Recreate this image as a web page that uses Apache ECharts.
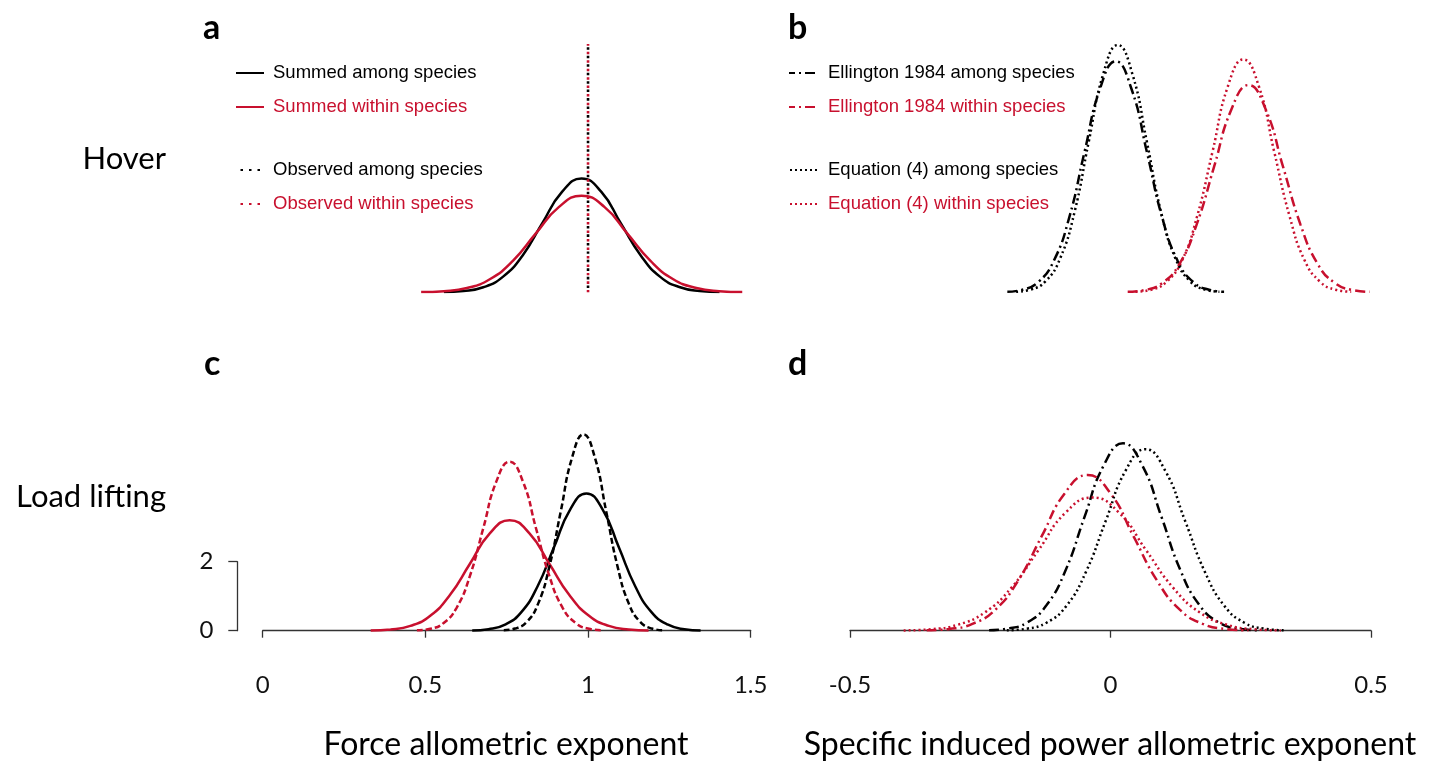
<!DOCTYPE html>
<html>
<head>
<meta charset="utf-8">
<title>Allometric exponent distributions</title>
<script src="https://cdn.jsdelivr.net/npm/echarts@6/dist/echarts.min.js"></script>
<style>
  html, body { margin: 0; padding: 0; background: #fff; }
  #chart { width: 1437px; height: 762px; }
</style>
</head>
<body>
<div id="chart"></div>
<script>
// ---- Panel a: hover, force allometric exponent ([exponent, density]) ----
const hoverSummedAmong = [[0.557,0.007],[0.617,0.037],[0.678,0.145],[0.738,0.447],[0.799,1.07],[0.859,2.00],[0.920,2.91],[0.980,3.30],[1.041,2.91],[1.101,2.00],[1.162,1.07],[1.222,0.447],[1.283,0.145],[1.343,0.037],[1.404,0.007]];
const hoverSummedWithin = [[0.487,0.006],[0.557,0.031],[0.628,0.123],[0.698,0.379],[0.769,0.909],[0.839,1.70],[0.910,2.47],[0.980,2.80],[1.051,2.47],[1.121,1.70],[1.192,0.909],[1.262,0.379],[1.333,0.123],[1.403,0.031],[1.474,0.006]];
const hoverObservedAmong = [[1.0,0],[1.0,7.2]];
const hoverObservedWithin = [[1.0,0],[1.0,7.2]];

// ---- Panel b: hover, specific induced power exponent ----
const hoverEllingtonAmong = [[-0.198,0.015],[-0.169,0.074],[-0.139,0.294],[-0.109,0.907],[-0.079,2.18],[-0.050,4.06],[-0.020,5.91],[0.010,6.70],[0.040,5.91],[0.070,4.06],[0.099,2.18],[0.129,0.907],[0.159,0.294],[0.189,0.074],[0.218,0.015]];
const hoverEllingtonWithin = [[0.033,0.013],[0.066,0.067],[0.099,0.264],[0.132,0.813],[0.165,1.95],[0.199,3.65],[0.232,5.30],[0.265,6.01],[0.298,5.30],[0.331,3.65],[0.365,1.95],[0.398,0.813],[0.431,0.264],[0.464,0.067],[0.497,0.013]];
const hoverEquationAmong = [[-0.181,0.016],[-0.153,0.080],[-0.125,0.315],[-0.097,0.970],[-0.069,2.33],[-0.042,4.35],[-0.014,6.33],[0.014,7.17],[0.042,6.33],[0.070,4.35],[0.097,2.33],[0.125,0.970],[0.153,0.315],[0.181,0.080],[0.209,0.016]];
const hoverEquationWithin = [[0.048,0.015],[0.078,0.075],[0.107,0.296],[0.137,0.913],[0.166,2.19],[0.196,4.09],[0.225,5.96],[0.255,6.75],[0.285,5.96],[0.314,4.09],[0.344,2.19],[0.373,0.913],[0.403,0.296],[0.432,0.075],[0.462,0.015]];

// ---- Panel c: load lifting, force allometric exponent ----
const liftSummedAmong = [[0.644,0.009],[0.694,0.044],[0.745,0.175],[0.795,0.538],[0.845,1.29],[0.895,2.41],[0.945,3.51],[0.995,3.98],[1.045,3.51],[1.095,2.41],[1.145,1.29],[1.195,0.538],[1.246,0.175],[1.296,0.044],[1.346,0.009]];
const liftSummedWithin = [[0.332,0.007],[0.393,0.036],[0.454,0.140],[0.515,0.433],[0.576,1.04],[0.637,1.94],[0.698,2.82],[0.759,3.20],[0.820,2.82],[0.881,1.94],[0.942,1.04],[1.003,0.433],[1.064,0.140],[1.125,0.036],[1.186,0.007]];
const liftObservedAmong = [[0.741,0.012],[0.776,0.063],[0.811,0.250],[0.846,0.770],[0.881,1.85],[0.916,3.45],[0.951,5.02],[0.986,5.69],[1.021,5.02],[1.056,3.45],[1.091,1.85],[1.126,0.770],[1.161,0.250],[1.196,0.063],[1.231,0.012]];
const liftObservedWithin = [[0.474,0.011],[0.515,0.054],[0.555,0.215],[0.596,0.663],[0.637,1.59],[0.678,2.97],[0.718,4.32],[0.759,4.90],[0.800,4.32],[0.840,2.97],[0.881,1.59],[0.922,0.663],[0.963,0.215],[1.003,0.054],[1.044,0.011]];

// ---- Panel d: load lifting, specific induced power exponent ----
const liftEllingtonAmong = [[-0.233,0.012],[-0.197,0.060],[-0.160,0.238],[-0.123,0.735],[-0.086,1.76],[-0.050,3.29],[-0.013,4.79],[0.024,5.43],[0.061,4.79],[0.098,3.29],[0.134,1.76],[0.171,0.735],[0.208,0.238],[0.245,0.060],[0.281,0.012]];
const liftEllingtonWithin = [[-0.353,0.010],[-0.309,0.050],[-0.265,0.198],[-0.221,0.610],[-0.177,1.46],[-0.132,2.74],[-0.088,3.98],[-0.044,4.51],[0.000,3.98],[0.044,2.74],[0.089,1.46],[0.133,0.610],[0.177,0.198],[0.221,0.050],[0.265,0.010]];
const liftEquationAmong = [[-0.199,0.012],[-0.161,0.058],[-0.123,0.231],[-0.085,0.712],[-0.047,1.71],[-0.009,3.19],[0.029,4.64],[0.067,5.26],[0.105,4.64],[0.143,3.19],[0.181,1.71],[0.219,0.712],[0.257,0.231],[0.295,0.058],[0.333,0.012]];
const liftEquationWithin = [[-0.397,0.008],[-0.345,0.043],[-0.294,0.169],[-0.242,0.522],[-0.190,1.25],[-0.138,2.34],[-0.087,3.41],[-0.035,3.86],[0.017,3.41],[0.068,2.34],[0.120,1.25],[0.172,0.522],[0.224,0.169],[0.275,0.043],[0.327,0.008]];

// ---- Axis settings and labels ----
const forceTicks = [0, 0.5, 1, 1.5];
const powerTicks = [-0.5, 0, 0.5];
const densityScaleTicks = [0, 2];
const densityMax = 7.2;
const rowLabels = ['Hover', 'Load lifting'];
const panelLetters = ['a', 'b', 'c', 'd'];
const axisTitles = ['Force allometric exponent', 'Specific induced power allometric exponent'];

const BLACK = '#000000';
const RED = '#c8102e';
const AXIS = '#333333';
const UI_FONT = 'Lato, "Open Sans", sans-serif';
const LEGEND_FONT = '"Liberation Sans", Arial, sans-serif';

const DOT_A = [2.5, 6];
const DOT = [2, 3];
const DASH = [6, 3];
const DASHDOT = [10, 4, 2, 4];

function curve(name, data, grid, color, type, width, extra) {
  return Object.assign({
    name: name,
    type: 'line',
    xAxisIndex: grid,
    yAxisIndex: grid,
    data: data,
    symbol: 'none',
    smooth: 0.5,
    silent: true,
    animation: false,
    lineStyle: { color: color, width: width, type: type, cap: 'butt' },
    itemStyle: { color: color }
  }, extra || {});
}

function bottomXAxis(grid, min, max, ticks) {
  return {
    type: 'value', gridIndex: grid, min: min, max: max, interval: 0.5,
    offset: 11,
    splitLine: { show: false },
    axisLine: { show: true, lineStyle: { color: AXIS, width: 1.3 } },
    axisTick: { show: true, length: 7, lineStyle: { color: AXIS, width: 1.3 } },
    axisLabel: {
      margin: 32, fontSize: 24, color: '#111', fontFamily: UI_FONT,
      formatter: function (v) { return ticks.indexOf(v) >= 0 ? String(v) : ''; }
    }
  };
}

function hiddenXAxis(grid, min, max) {
  return { type: 'value', gridIndex: grid, min: min, max: max, show: false, splitLine: { show: false } };
}

function hiddenYAxis(grid) {
  return { type: 'value', gridIndex: grid, min: 0, max: densityMax, show: false, splitLine: { show: false } };
}

function legendBlock(names, colors, left, top, width) {
  return {
    orient: 'vertical', left: left, top: top,
    itemWidth: width, itemHeight: 14, itemGap: 14,
    selectedMode: false, padding: 0,
    itemStyle: { opacity: 0 },
    textStyle: { fontSize: 18.5, lineHeight: 20, fontFamily: LEGEND_FONT, padding: [0, 0, 0, 4] },
    data: names.map(function (n, i) { return { name: n, textStyle: { color: colors[i] } }; })
  };
}

const chart = echarts.init(document.getElementById('chart'), null, { renderer: 'canvas' });

const option = {
  backgroundColor: '#ffffff',
  animation: false,
  grid: [
    { left: 262.7, width: 488, top: 44, height: 248.3 },
    { left: 850, width: 521, top: 44, height: 248.3 },
    { left: 262.7, width: 488, top: 382.3, height: 248.4 },
    { left: 850, width: 521, top: 382.3, height: 248.4 },
    { left: 237.3, width: 1, top: 561.7, height: 69 }
  ],
  xAxis: [
    hiddenXAxis(0, 0, 1.5),
    hiddenXAxis(1, -0.5, 0.5),
    bottomXAxis(2, 0, 1.5, forceTicks),
    bottomXAxis(3, -0.5, 0.5, powerTicks),
    hiddenXAxis(4, 0, 1)
  ],
  yAxis: [
    hiddenYAxis(0),
    hiddenYAxis(1),
    hiddenYAxis(2),
    hiddenYAxis(3),
    {
      type: 'value', gridIndex: 4, min: 0, max: 2, interval: 2,
      splitLine: { show: false },
      axisLine: { show: true, lineStyle: { color: AXIS, width: 1.3 } },
      axisTick: { show: true, length: 9, lineStyle: { color: AXIS, width: 1.3 } },
      axisLabel: {
        margin: 24, fontSize: 24, color: '#111', fontFamily: UI_FONT,
        formatter: function (v) { return densityScaleTicks.indexOf(v) >= 0 ? String(v) : ''; }
      }
    }
  ],
  legend: [
    legendBlock(['Summed among species', 'Summed within species'], [BLACK, RED], 235, 63, 28),
    legendBlock(['Observed among species', 'Observed within species'], [BLACK, RED], 235, 160, 28),
    legendBlock(['Ellington 1984 among species', 'Ellington 1984 within species'], [BLACK, RED], 788, 63, 30),
    legendBlock(['Equation (4) among species', 'Equation (4) within species'], [BLACK, RED], 788, 160, 30)
  ],
  series: [
    // a
    curve('Summed among species', hoverSummedAmong, 0, BLACK, 'solid', 2.5),
    curve('Summed within species', hoverSummedWithin, 0, RED, 'solid', 2.5),
    curve('Observed within species', hoverObservedWithin, 0, RED, DOT_A, 2.6, { z: 3 }),
    curve('Observed among species', hoverObservedAmong, 0, BLACK, DOT_A, 2.6, { z: 4 }),
    // b
    curve('Ellington 1984 among species', hoverEllingtonAmong, 1, BLACK, DASHDOT, 2.5),
    curve('Ellington 1984 within species', hoverEllingtonWithin, 1, RED, DASHDOT, 2.5),
    curve('Equation (4) among species', hoverEquationAmong, 1, BLACK, DOT, 2.5),
    curve('Equation (4) within species', hoverEquationWithin, 1, RED, DOT, 2.5),
    // c
    curve('Summed among species', liftSummedAmong, 2, BLACK, 'solid', 2.5),
    curve('Summed within species', liftSummedWithin, 2, RED, 'solid', 2.5),
    curve('Observed among species', liftObservedAmong, 2, BLACK, DASH, 2.5),
    curve('Observed within species', liftObservedWithin, 2, RED, DASH, 2.5),
    // d
    curve('Ellington 1984 among species', liftEllingtonAmong, 3, BLACK, DASHDOT, 2.5),
    curve('Ellington 1984 within species', liftEllingtonWithin, 3, RED, DASHDOT, 2.5),
    curve('Equation (4) among species', liftEquationAmong, 3, BLACK, DOT, 2.5),
    curve('Equation (4) within species', liftEquationWithin, 3, RED, DOT, 2.5)
  ],
  graphic: [
    { type: 'text', x: 203, y: 28, style: { text: panelLetters[0], font: 'bold 34px ' + UI_FONT, fill: '#000', verticalAlign: 'middle' } },
    { type: 'text', x: 788, y: 28, style: { text: panelLetters[1], font: 'bold 34px ' + UI_FONT, fill: '#000', verticalAlign: 'middle' } },
    { type: 'text', x: 204, y: 364, style: { text: panelLetters[2], font: 'bold 34px ' + UI_FONT, fill: '#000', verticalAlign: 'middle' } },
    { type: 'text', x: 788, y: 364, style: { text: panelLetters[3], font: 'bold 34px ' + UI_FONT, fill: '#000', verticalAlign: 'middle' } },
    { type: 'text', x: 166, y: 159, style: { text: rowLabels[0], font: '31px ' + UI_FONT, fill: '#000', align: 'right', verticalAlign: 'middle' } },
    { type: 'text', x: 166, y: 497, style: { text: rowLabels[1], font: '31px ' + UI_FONT, fill: '#000', align: 'right', verticalAlign: 'middle' } },
    { type: 'text', x: 506, y: 745, style: { text: axisTitles[0], font: '32px ' + UI_FONT, fill: '#000', align: 'center', verticalAlign: 'middle' } },
    { type: 'text', x: 1110, y: 745, style: { text: axisTitles[1], font: '32px ' + UI_FONT, fill: '#000', align: 'center', verticalAlign: 'middle' } }
  ]
};

// offset the dotted black spike so the red dots show between its dots
option.series[3].lineStyle.dashOffset = 4;

chart.setOption(option);
</script>
</body>
</html>
